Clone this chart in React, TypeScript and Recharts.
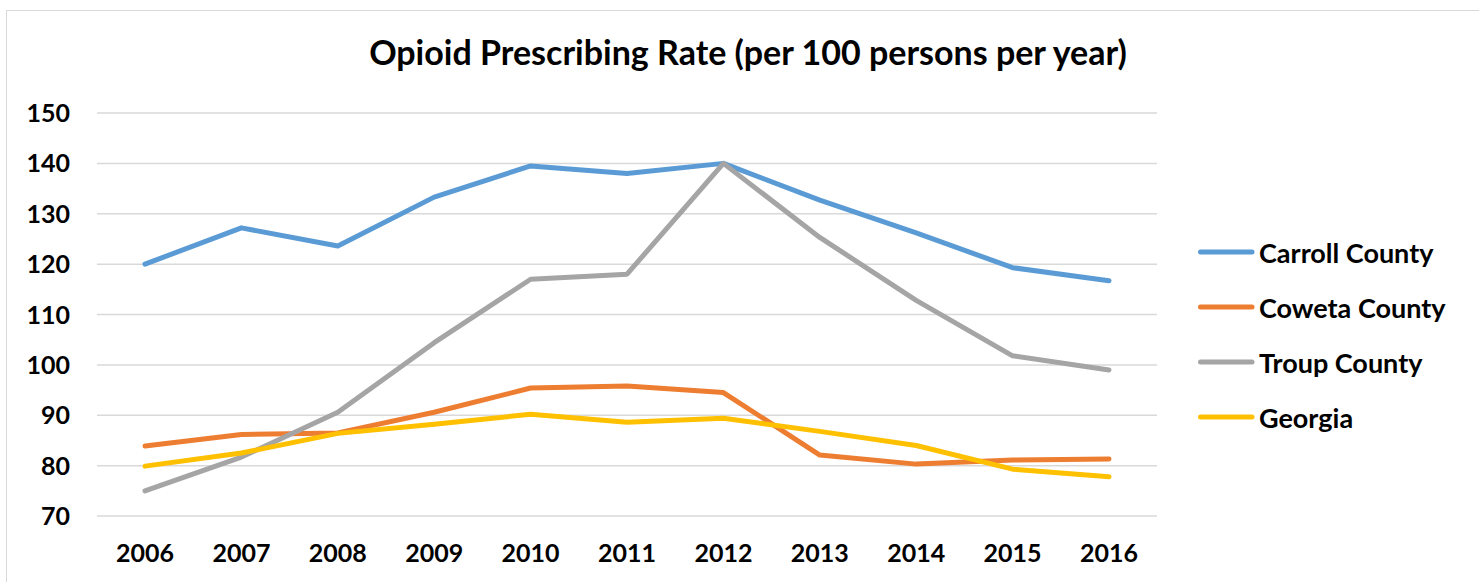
import React from "react";
import { LineChart, Line, XAxis, YAxis, CartesianGrid } from "recharts";

const YEARS = ["2006", "2007", "2008", "2009", "2010", "2011", "2012", "2013", "2014", "2015", "2016"];
const CARROLL = [120.0, 127.2, 123.6, 133.3, 139.5, 138.0, 140.0, 132.7, 126.2, 119.3, 116.7];
const COWETA = [83.9, 86.2, 86.5, 90.6, 95.4, 95.8, 94.5, 82.1, 80.3, 81.1, 81.3];
const TROUP = [75.0, 81.7, 90.6, 104.4, 117.0, 118.0, 140.0, 125.3, 112.8, 101.8, 99.0];
const GEORGIA = [79.9, 82.5, 86.4, 88.2, 90.2, 88.6, 89.4, 86.8, 84.0, 79.3, 77.8];
const Y_TICKS = [70, 80, 90, 100, 110, 120, 130, 140, 150];

const SERIES = [
  { key: "carroll", name: "Carroll County", color: "#5B9BD5" },
  { key: "coweta", name: "Coweta County", color: "#ED7D31" },
  { key: "troup", name: "Troup County", color: "#A5A5A5" },
  { key: "georgia", name: "Georgia", color: "#FFC000" },
];

const data = YEARS.map((year, i) => ({
  year,
  carroll: CARROLL[i],
  coweta: COWETA[i],
  troup: TROUP[i],
  georgia: GEORGIA[i],
}));

const FONT = "Lato, 'Open Sans', sans-serif";

function XTick({ x, y, payload }: any) {
  return (
    <text x={x} y={y + 46} textAnchor="middle" fontFamily={FONT} fontWeight={700} fontSize={25} fill="#000">
      {payload.value}
    </text>
  );
}

function YTick({ x, y, payload }: any) {
  return (
    <text x={x} y={y + 9} textAnchor="end" fontFamily={FONT} fontWeight={700} fontSize={25} fill="#000">
      {payload.value}
    </text>
  );
}

// legend sits outside the chart so it doesn't eat into the plot margins
function LegendBox() {
  return (
    <div
      style={{
        position: "absolute",
        left: 1198,
        top: 224.5,
        fontFamily: FONT,
        fontWeight: 700,
        fontSize: 27,
        color: "#000",
        whiteSpace: "nowrap",
      }}
    >
      {SERIES.map((s) => (
        <div key={s.key} style={{ height: 55, display: "flex", alignItems: "center" }}>
          <svg width={58} height={10} style={{ marginRight: 3 }}>
            <line x1={2.5} y1={5} x2={54} y2={5} stroke={s.color} strokeWidth={5} strokeLinecap="round" />
          </svg>
          <span>{s.name}</span>
        </div>
      ))}
    </div>
  );
}

export default function App() {
  return (
    <div style={{ position: "absolute", left: 0, top: 0, width: 1479, height: 582, overflow: "hidden", background: "#fff" }}>
      <div
        style={{
          position: "absolute",
          left: 6,
          top: 10,
          width: 1520,
          height: 620,
          border: "1.5px solid #d9d9d9",
        }}
      />
      <div
        style={{
          position: "absolute",
          left: 0,
          top: 31,
          width: 1496,
          textAlign: "center",
          fontFamily: FONT,
          fontWeight: 700,
          fontSize: 34,
          color: "#000",
        }}
      >
        Opioid Prescribing Rate (per 100 persons per year)
      </div>
      <div style={{ position: "absolute", left: 0, top: 0 }}>
        <LineChart width={1479} height={582} data={data} margin={{ top: 113, right: 322, bottom: 26, left: 0 }}>
          <CartesianGrid vertical={false} stroke="#d9d9d9" strokeWidth={1.5} />
          <XAxis
            dataKey="year"
            axisLine={false}
            tickLine={false}
            tickSize={0}
            tickMargin={0}
            height={40}
            padding={{ left: 48, right: 48 }}
            tick={<XTick />}
            interval={0}
          />
          <YAxis
            domain={[70, 150]}
            ticks={Y_TICKS}
            axisLine={false}
            tickLine={false}
            tickSize={0}
            tickMargin={27}
            width={97}
            tick={<YTick />}
            interval={0}
          />
          {SERIES.map((s) => (
            <Line
              key={s.key}
              type="linear"
              dataKey={s.key}
              name={s.name}
              stroke={s.color}
              strokeWidth={5}
              strokeLinecap="round"
              strokeLinejoin="round"
              dot={false}
              activeDot={false}
              isAnimationActive={false}
            />
          ))}
        </LineChart>
      </div>
      <LegendBox />
    </div>
  );
}
